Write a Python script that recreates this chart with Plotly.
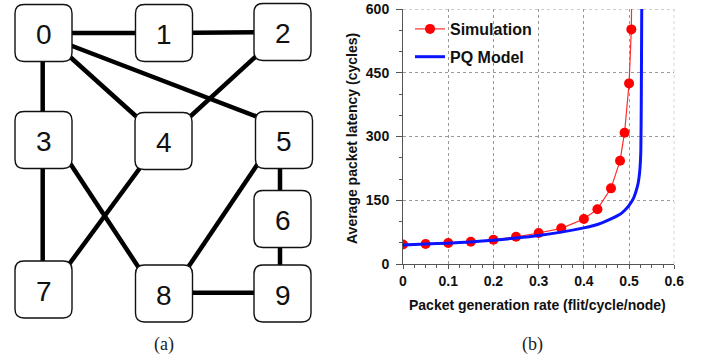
import plotly.graph_objects as go

# ---------------- data ----------------
node_labels = ["0", "1", "2", "3", "4", "5", "6", "7", "8", "9"]
edges = [(0, 1), (1, 2), (0, 3), (0, 4), (0, 5), (2, 4), (3, 7), (3, 8),
         (4, 7), (5, 8), (5, 6), (6, 9), (8, 9)]

sim_rate = [0, 0.05, 0.1, 0.15, 0.2, 0.25, 0.3, 0.35, 0.4, 0.43, 0.46,
            0.48, 0.49, 0.50, 0.505, 0.507]
sim_latency = [46, 47, 49.5, 52.5, 57, 64, 73, 84, 106, 129, 178,
               243, 309, 425, 552, 760]

pq_rate = [0, 0.05, 0.1, 0.15, 0.2, 0.25, 0.3, 0.35, 0.4, 0.42, 0.44, 0.46,
           0.48, 0.49, 0.50, 0.51, 0.515, 0.52, 0.523, 0.525, 0.526, 0.527, 0.528]
pq_latency = [45, 47, 49, 52, 56, 61, 67, 75, 85, 90, 97, 106,
              117, 126, 138, 155, 170, 190, 212, 240, 267, 385, 600]

x_ticks = [0, 0.1, 0.2, 0.3, 0.4, 0.5, 0.6]
y_ticks = [0, 150, 300, 450, 600]

# ---------------- layout constants (pixels) ----------------
W, H = 703, 361
node_centers = {0: (43.5, 33), 1: (164, 33), 2: (282.5, 32), 3: (43.5, 140),
                4: (163.5, 141), 5: (284, 140), 6: (282.5, 219), 7: (43.5, 289.5),
                8: (164, 293.5), 9: (282.5, 293.5)}
BOX = 57
RAD = 9
edge_anchor = {(0, 5): ((43.5, 35), (284, 127)),
               (3, 8): ((43.5, 123), (164, 306)),
               (4, 7): ((163.5, 136), (43.5, 299)),
               (5, 8): ((284, 125), (164, 303)),
               (0, 3): ((42.7, 33), (42.7, 140)),
               (3, 7): ((42.7, 140), (42.7, 289.5)),
               (5, 6): ((280, 140), (280, 219)),
               (6, 9): ((280, 219), (280, 293.5)),
               (8, 9): ((164, 292.7), (282.5, 292.7))}

px_left, px_right = 403.0, 674.3
px_top, px_bottom = 9.0, 264.0

FONT = "Liberation Sans, Arial, sans-serif"
GRID = "#9a9a9a"

fig = go.Figure()

fig.add_trace(go.Scatter(
    x=sim_rate, y=sim_latency, mode="lines+markers", name="Simulation", legendgroup="sim",
    line=dict(color="#ff2a2a", width=1.2),
    marker=dict(color="#ff0000", size=10, line=dict(width=0)),
    xaxis="x", yaxis="y", cliponaxis=True))
fig.add_trace(go.Scatter(
    x=pq_rate, y=pq_latency, mode="lines", name="PQ Model", legendgroup="pq",
    line=dict(color="#0a14ff", width=3, shape="spline", smoothing=0.6),
    xaxis="x", yaxis="y", cliponaxis=True))

fig.add_trace(go.Scatter(x=[0], y=[0], mode="markers", marker=dict(opacity=0),
                         xaxis="x2", yaxis="y2", showlegend=False, hoverinfo="skip"))

shapes = [
    dict(type="line", xref="x", yref="y", x0=x_ticks[-1], x1=x_ticks[-1], y0=0, y1=y_ticks[-1],
         line=dict(color=GRID, width=1, dash="3px,3px"), layer="below"),
    dict(type="line", xref="x", yref="y", x0=0, x1=x_ticks[-1], y0=y_ticks[-1], y1=y_ticks[-1],
         line=dict(color=GRID, width=1, dash="3px,3px"), layer="below"),
]
for (a, b) in edges:
    if (a, b) in edge_anchor:
        (x0, y0), (x1, y1) = edge_anchor[(a, b)]
    else:
        (x0, y0), (x1, y1) = node_centers[a], node_centers[b]
    shapes.append(dict(type="line", xref="x2", yref="y2", x0=x0, y0=y0, x1=x1, y1=y1,
                       line=dict(color="black", width=4.5)))


def rounded(cx, cy, s, r):
    x0, y0, x1, y1 = cx - s / 2, cy - s / 2, cx + s / 2, cy + s / 2
    return (f"M {x0 + r},{y0} L {x1 - r},{y0} Q {x1},{y0} {x1},{y0 + r} "
            f"L {x1},{y1 - r} Q {x1},{y1} {x1 - r},{y1} L {x0 + r},{y1} "
            f"Q {x0},{y1} {x0},{y1 - r} L {x0},{y0 + r} Q {x0},{y0} {x0 + r},{y0} Z")


annotations = []
for i, lab in enumerate(node_labels):
    cx, cy = node_centers[i]
    shapes.append(dict(type="path", xref="x2", yref="y2", path=rounded(cx, cy, BOX, RAD),
                       fillcolor="white", line=dict(color="#111111", width=1.4)))
    annotations.append(dict(x=cx, y=cy + 1.5, xref="x2", yref="y2", text=lab, showarrow=False,
                            font=dict(family=FONT, size=28, color="#111111"),
                            xanchor="center", yanchor="middle"))

annotations += [
    dict(x=164, y=344, xref="x2", yref="y2", text="(a)", showarrow=False,
         font=dict(family="Liberation Serif, Times New Roman, serif", size=18, color="#222"),
         xanchor="center", yanchor="middle"),
    dict(x=532, y=344, xref="x2", yref="y2", text="(b)", showarrow=False,
         font=dict(family="Liberation Serif, Times New Roman, serif", size=18, color="#222"),
         xanchor="center", yanchor="middle"),
    dict(x=537.5, y=305, xref="x2", yref="y2", text="Packet generation rate (flit/cycle/node)",
         showarrow=False, font=dict(family=FONT, size=14, color="#111", weight="bold"),
         xanchor="center", yanchor="middle"),
    dict(x=352, y=139, xref="x2", yref="y2", text="Average packet latency (cycles)",
         showarrow=False, textangle=-90,
         font=dict(family=FONT, size=14, color="#111", weight="bold"),
         xanchor="center", yanchor="middle"),
]

fig.update_layout(
    width=W, height=H, margin=dict(l=0, r=0, t=0, b=0, autoexpand=False),
    paper_bgcolor="white", plot_bgcolor="rgba(0,0,0,0)",
    showlegend=True,
    legend=dict(x=(410) / W, y=1 - 12 / H, xanchor="left", yanchor="top",
                bgcolor="rgba(0,0,0,0)", borderwidth=0, traceorder="grouped",
                font=dict(family=FONT, size=16, color="#111", weight="bold"),
                itemwidth=30, tracegroupgap=4),
    xaxis=dict(domain=[px_left / W, px_right / W], anchor="y", range=[0, 0.6],
               tickvals=x_ticks, ticktext=[("0" if v == 0 else f"{v:g}") for v in x_ticks],
               showgrid=True, gridcolor=GRID, griddash="3px,3px", gridwidth=1,
               zeroline=False, showline=True, linecolor="#555", linewidth=1,
               ticks="outside", ticklen=4, tickcolor="#555", ticklabelstandoff=0,
               tickfont=dict(family=FONT, size=14, color="#111", weight="bold"),
               minor=dict(dtick=0.025, ticks="outside", ticklen=3, tickcolor="#555", showgrid=False)),
    yaxis=dict(domain=[1 - px_bottom / H, 1 - px_top / H], anchor="x", range=[0, 600],
               tickvals=y_ticks,
               showgrid=True, gridcolor=GRID, griddash="3px,3px", gridwidth=1,
               zeroline=False, showline=True, linecolor="#555", linewidth=1,
               ticks="outside", ticklen=6, tickcolor="#555", ticklabelstandoff=4,
               tickfont=dict(family=FONT, size=14, color="#111", weight="bold"),
               minor=dict(dtick=50, ticks="outside", ticklen=3, tickcolor="#555", showgrid=False)),
    xaxis2=dict(domain=[0, 1], anchor="y2", range=[0, W], visible=False, fixedrange=True),
    yaxis2=dict(domain=[0, 1], anchor="x2", range=[H, 0], visible=False, fixedrange=True),
    shapes=shapes, annotations=annotations,
)

fig.write_html("out.html",
               post_script="document.body.style.margin='0';document.body.style.padding='0';")
